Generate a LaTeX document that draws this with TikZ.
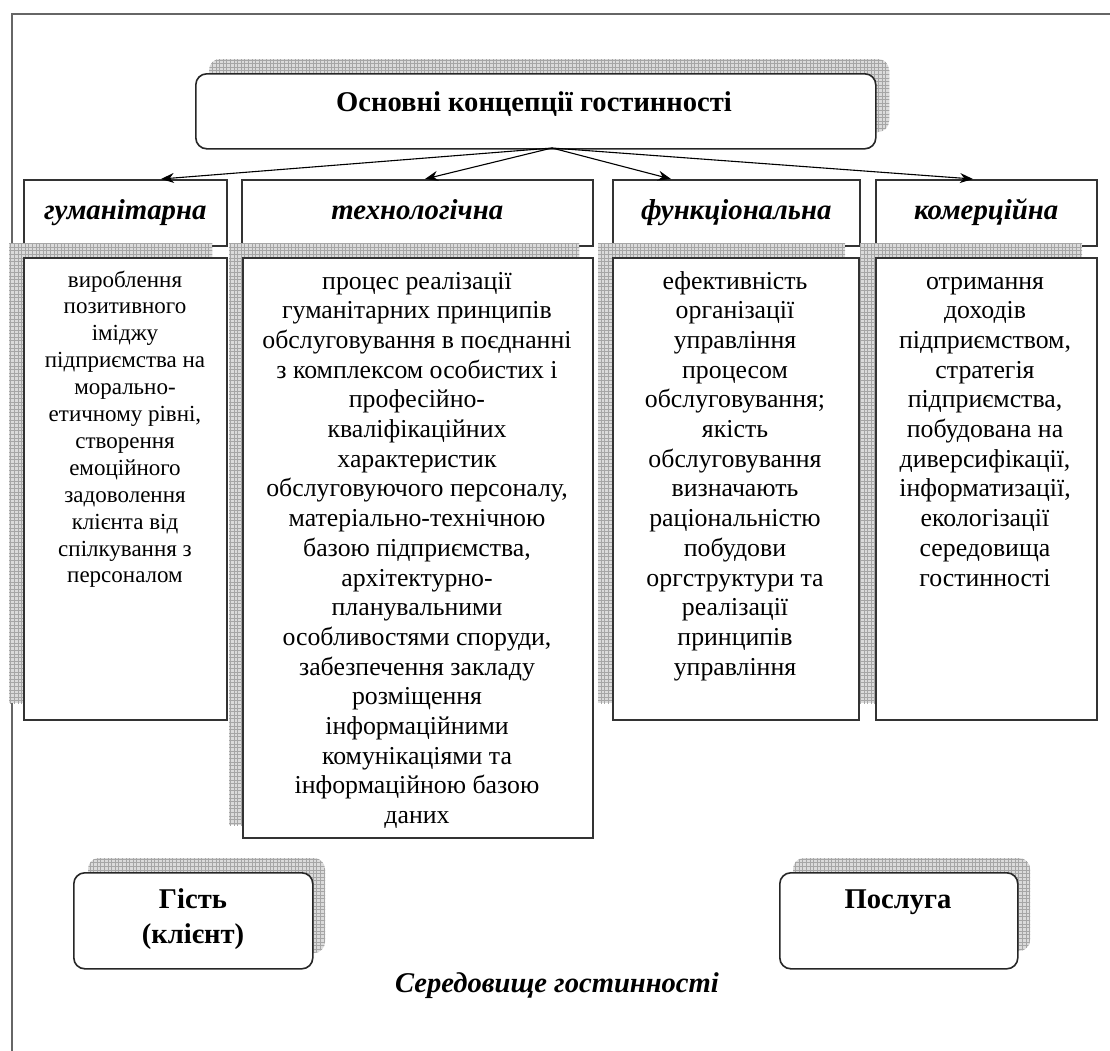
\documentclass[tikz,border=0pt]{standalone}
\usepackage{fontspec}
\setmainfont{Liberation Serif}
\usetikzlibrary{arrows.meta,patterns}
\pgfdeclarepatternformonly{shadegrid}{\pgfqpoint{-1pt}{-1pt}}{\pgfqpoint{4pt}{4pt}}{\pgfqpoint{3.6pt}{3.6pt}}{%
  \pgfsetlinewidth{0.7pt}%
  \pgfpathmoveto{\pgfqpoint{0pt}{-0.5pt}}\pgfpathlineto{\pgfqpoint{0pt}{4.1pt}}%
  \pgfpathmoveto{\pgfqpoint{-0.5pt}{0pt}}\pgfpathlineto{\pgfqpoint{4.1pt}{0pt}}%
  \pgfusepath{stroke}}
\begin{document}
\begin{tikzpicture}[x=1pt,y=-1pt,
  frameline/.style={draw=black!60, line width=2pt},
  shadefill/.style={fill=gray!28, postaction={pattern=shadegrid, pattern color=gray!70}},
  rbox/.style={draw=black!85, fill=white, line width=1.6pt, rounded corners=11pt, inner sep=0pt, anchor=north west},
  hbox/.style={draw=black!80, fill=white, line width=1.5pt, inner sep=0pt, anchor=north west, text height=19pt, text depth=6pt, font=\fontsize{28.8}{32}\selectfont\bfseries\itshape},
  dbox/.style={draw=black!80, fill=white, line width=1.5pt, inner sep=0pt, anchor=north west},
  body/.style={align=center, anchor=north, inner sep=0pt, font=\fontsize{25.8}{29.7}\selectfont},
  bodysmall/.style={align=center, anchor=north, inner sep=0pt, font=\fontsize{23}{26.9}\selectfont},
  bigbold/.style={align=center, inner sep=0pt, font=\fontsize{28.6}{35}\selectfont\bfseries},
  conn/.style={line width=1.1pt, -{Stealth[length=13pt,width=10pt]}}
]
\useasboundingbox (0,0) rectangle (1110,1050);
\fill[white] (0,0) rectangle (1110,1050);
% outer frame (left and top edges visible)
\draw[frameline] (12,1052) -- (12,14) -- (1112,14);

% ---- top box
\fill[shadefill, rounded corners=11pt] (209,59) rectangle (889,132);
\node[rbox, minimum width=680pt, minimum height=75pt] (top) at (195,73) {};
\node[bigbold, anchor=base] (toptext) at (534,111.5) {Основні концепції гостинності};

% ---- heading boxes
\node[hbox, minimum width=203pt, minimum height=66pt] (h1) at (23,179) {гуманітарна};
\node[hbox, minimum width=351pt, minimum height=66pt] (h2) at (241,179) {технологічна};
\node[hbox, minimum width=247pt, minimum height=66pt] (h3) at (612,179) {функціональна};
\node[hbox, minimum width=221pt, minimum height=66pt] (h4) at (875,179) {комерційна};

% ---- arrows
\coordinate (o) at (552,148);
\draw[conn] (o) -- (h1.north -| 161,0);
\draw[conn] (o) -- (h2.north -| 425,0);
\draw[conn] (o) -- (h3.north -| 671,0);
\draw[conn] (o) -- (h4.north -| 973,0);

% ---- description boxes with shadows
\fill[shadefill] (9,243) rectangle (212,703);
\fill[shadefill] (229,243) rectangle (579,825);
\fill[shadefill] (598,243) rectangle (845,703);
\fill[shadefill] (860,243) rectangle (1082,703);
\node[dbox, minimum width=203pt, minimum height=462pt] (d1) at (23,257) {};
\node[dbox, minimum width=350pt, minimum height=580pt] (d2) at (242,257) {};
\node[dbox, minimum width=246pt, minimum height=462pt] (d3) at (612,257) {};
\node[dbox, minimum width=221pt, minimum height=462pt] (d4) at (875,257) {};

\node[bodysmall] (t1) at (125,268) {\strut вироблення\\позитивного\\іміджу\\підприємства на\\морально-\\етичному рівні,\\створення\\емоційного\\задоволення\\клієнта від\\спілкування з\\персоналом};
\node[body] (t2) at (417,268) {\strut процес реалізації\\гуманітарних принципів\\обслуговування в поєднанні\\з комплексом особистих і\\професійно-\\кваліфікаційних\\характеристик\\обслуговуючого персоналу,\\матеріально-технічною\\базою підприємства,\\архітектурно-\\планувальними\\особливостями споруди,\\забезпечення закладу\\розміщення\\інформаційними\\комунікаціями та\\інформаційною базою\\даних};
\node[body] (t3) at (735,268) {\strut ефективність\\організації\\управління\\процесом\\обслуговування;\\якість\\обслуговування\\визначають\\раціональністю\\побудови\\оргструктури та\\реалізації\\принципів\\управління};
\node[body] (t4) at (985,268) {\strut отримання\\доходів\\підприємством,\\стратегія\\підприємства,\\побудована на\\диверсифікації,\\інформатизації,\\екологізації\\середовища\\гостинності};

% ---- bottom boxes
\fill[shadefill, rounded corners=11pt] (88,858) rectangle (325,953);
\node[rbox, minimum width=239pt, minimum height=96pt] (guest) at (73,872) {};
\node[bigbold, anchor=north] (guesttext) at (193,884) {\strut Гість\\(клієнт)};

\fill[shadefill, rounded corners=11pt] (793,858) rectangle (1030,951);
\node[rbox, minimum width=238pt, minimum height=96pt] (serv) at (779,872) {};
\node[bigbold, anchor=base] (servtext) at (898,908.5) {Послуга};

\node[bigbold, anchor=base, font=\fontsize{28.6}{32}\selectfont\bfseries\itshape] (env) at (557,992.5) {Середовище гостинності};
\end{tikzpicture}
\end{document}
